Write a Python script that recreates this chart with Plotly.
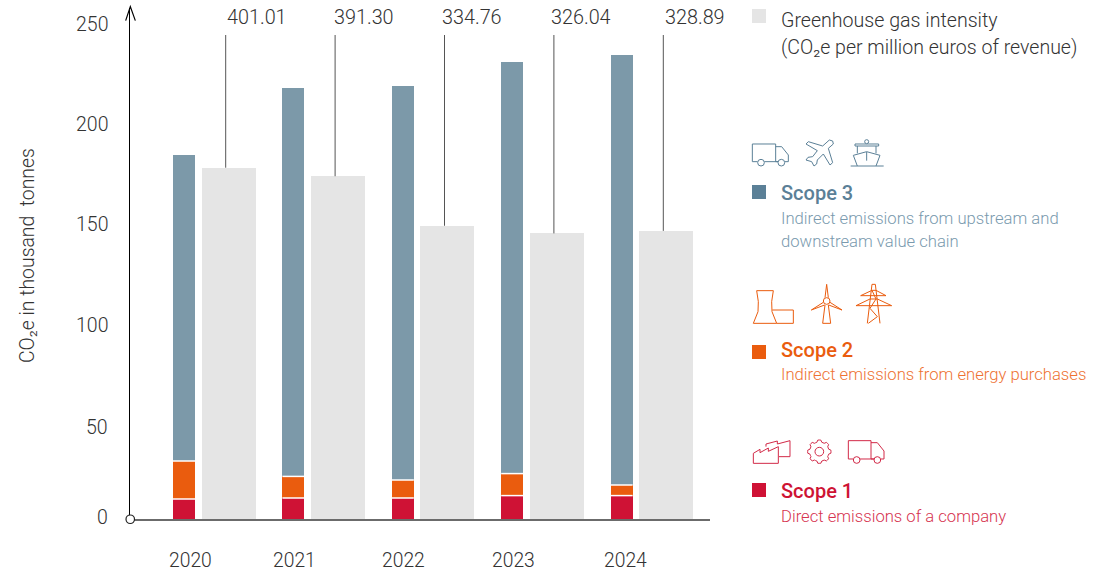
import math
import plotly.graph_objects as go

years = [2020, 2021, 2022, 2023, 2024]
scope1 = [10, 10.5, 10.5, 11.7, 11.7]
scope2 = [19, 10.8, 9, 11, 5.3]
scope3 = [153, 194.2, 197, 205.8, 215]
intensity = [401.01, 391.30, 334.76, 326.04, 328.89]
intensity_labels = ["401.01", "391.30", "334.76", "326.04", "328.89"]
y_ticks = [0, 50, 100, 150, 200, 250]

W, H = 1106, 571
L, R, T, B = 130, 710, 8, 519   # plot box in pixels
PW, PH = R - L, B - T
UNIT = 109.4                    # px per year
PX_Y1, PX_Y2 = 2.0, 0.876       # px per axis unit
X0 = 2020 - (191 - L) / UNIT

FONT = "Roboto"
INK = "#333333"
BLUE, ORANGE, RED, GREY = "#7c99a9", "#ea5c0e", "#cf1235", "#e5e5e5"
BLUE_D, RED_T = "#5b8097", "#ce1334"

def fx(p): return (p - L) / PW
def fy(p): return (B - p) / PH

fig = go.Figure()
S_OFF, S_W = (173 - 191) / UNIT, 22 / UNIT
G_OFF, G_W = (201.5 - 191) / UNIT, 54 / UNIT
for name, vals, col in [("Scope 1", scope1, RED), ("Scope 2", scope2, ORANGE), ("Scope 3", scope3, BLUE)]:
    fig.add_bar(x=years, y=vals, name=name, marker=dict(color=col, line_width=0),
                width=S_W, offset=S_OFF, yaxis="y", hoverinfo="x+y+name")
fig.add_bar(x=years, y=intensity, name="Greenhouse gas intensity", marker=dict(color=GREY, line_width=0),
            width=G_W, offset=G_OFF, yaxis="y2")

# leader lines from the intensity bars up to the label row
LEAD_X = (225.7 - 191) / UNIT
LEAD_TOP = (B - 35) / PX_Y2
lx, ly = [], []
for yr, v in zip(years, intensity):
    lx += [yr + LEAD_X, yr + LEAD_X, None]
    ly += [v, LEAD_TOP, None]
fig.add_scatter(x=lx, y=ly, yaxis="y2", mode="lines", line=dict(color="#555555", width=1),
                hoverinfo="skip", showlegend=False)

shapes, ann = [], []

# white separators between stack segments
for yr, a, b in zip(years, scope1, scope2):
    for val in (a, a + b):
        shapes.append(dict(type="line", xref="x", yref="y", x0=yr + S_OFF, x1=yr + S_OFF + S_W,
                           y0=val, y1=val, line=dict(color="white", width=1.5)))

def text(px, py, s, size=16, color=INK, anchor="left", weight=300, **kw):
    ann.append(dict(xref="paper", yref="paper", x=fx(px - 2 if anchor == "left" else px), y=fy(py), text=s,
                    showarrow=False, xanchor=anchor, yanchor="middle", align="left",
                    font=dict(family=FONT, size=size, color=color, weight=weight), **kw))

# tick labels
tick_shift = {0: 2, 50: -8, 100: -6, 150: -5.5, 200: -5, 250: -5.5}
for t in y_ticks:
    ann.append(dict(xref="paper", yref="y", x=fx(110), y=t, yshift=tick_shift[t], text=str(t), showarrow=False,
                    xanchor="right", yanchor="middle", font=dict(family=FONT, size=19.5, color=INK, weight=300)))
year_shift = [-1, -6, -6, -6, -3]
for yr, sh in zip(years, year_shift):
    ann.append(dict(xref="x", yref="paper", x=yr, xshift=sh, y=fy(560), text=str(yr), showarrow=False,
                    xanchor="center", yanchor="middle", font=dict(family=FONT, size=19.3, color=INK, weight=300)))
# value labels
val_shift = [-1, -3, -5, -5, 0]
for yr, s, sh in zip(years, intensity_labels, val_shift):
    ann.append(dict(xref="x", yref="paper", x=yr + LEAD_X, xshift=sh, y=fy(17), text=s, showarrow=False,
                    xanchor="left", yanchor="middle", font=dict(family=FONT, size=19.8, color=INK, weight=300)))

text(27, 256, "CO₂e in thousand  tonnes", size=19.4, anchor="center", textangle=-90)

# legend
def square(y, col):
    shapes.append(dict(type="rect", xref="paper", yref="paper", x0=fx(752), x1=fx(766), y0=fy(y), y1=fy(y + 14),
                       fillcolor=col, line_width=0))
square(9, GREY); square(185, BLUE_D); square(345, ORANGE); square(483, RED)
text(781, 20, "Greenhouse gas intensity", size=19.6)
text(781, 47, "(CO₂e per million euros of revenue)", size=19.55)
text(781, 193, "Scope 3", size=20, color=BLUE_D, weight=500)
text(781, 218, "Indirect emissions from upstream and", size=16.65, color="#7a9aae")
text(781, 241, "downstream value chain", size=16.65, color="#7a9aae")
text(781, 350, "Scope 2", size=20, color=ORANGE, weight=500)
text(781, 374, "Indirect emissions from energy purchases", size=16.65, color="#ee7232")
text(781, 491, "Scope 1", size=20, color=RED_T, weight=500)
text(781, 516, "Direct emissions of a company", size=16.65, color="#d63350")

# pictograms: coordinates given in 3x crop space
def path(ox, oy, pts, col, close=False, width=1.0):
    d = "M " + " L ".join(f"{fx(ox + x / 3):.5f},{fy(oy + y / 3):.5f}" for x, y in pts)
    if close:
        d += " Z"
    shapes.append(dict(type="path", xref="paper", yref="paper", path=d, line=dict(color=col, width=width)))

def circle(ox, oy, cx, cy, r, col, fill="white"):
    shapes.append(dict(type="circle", xref="paper", yref="paper",
                       x0=fx(ox + (cx - r) / 3), x1=fx(ox + (cx + r) / 3),
                       y0=fy(oy + (cy + r) / 3), y1=fy(oy + (cy - r) / 3),
                       fillcolor=fill, line=dict(color=col, width=1)))

def truck(ox, oy, x0, y0, x1, y1, cab_top, cab_x, nose, w1, w2, col):
    path(ox, oy, [(w1 - 10, y1), (x0, y1), (x0, y0), (x1, y0), (x1, y1), (w2 - 10, y1)], col)
    path(ox, oy, [(x1, cab_top), (cab_x, cab_top), (nose, cab_top + 25), (nose, y1), (w2 + 10, y1)], col)
    path(ox, oy, [(w1 + 10, y1), (w2 - 10, y1)], col)
    circle(ox, oy, w1, y1 + 3, 10, col)
    circle(ox, oy, w2, y1 + 3, 10, col)

# scope 3 icons
ox, oy = 740, 130
truck(ox, oy, 37, 42, 107, 95, 50, 125, 145, 63, 124, BLUE_D)
path(ox, oy, [(278, 33), (268, 30), (248, 48), (205, 35), (198, 42), (232, 62), (218, 80), (204, 82), (198, 90),
              (215, 95), (222, 108), (230, 102), (232, 90), (250, 72), (270, 105), (278, 98), (265, 55), (280, 42)],
     BLUE_D, close=True)
path(ox, oy, [(332, 108), (431, 108)], BLUE_D)
path(ox, oy, [(352, 108), (340, 76), (380, 65), (420, 76), (408, 108)], BLUE_D)
path(ox, oy, [(345, 48), (345, 42), (416, 42), (416, 48), (345, 48)], BLUE_D)
path(ox, oy, [(352, 48), (352, 70)], BLUE_D)
path(ox, oy, [(408, 48), (408, 70)], BLUE_D)
path(ox, oy, [(380, 66), (380, 92)], BLUE_D)
circle(ox, oy, 380, 35, 6, BLUE_D)

# scope 2 icons
ox, oy = 740, 275
path(ox, oy, [(50, 47), (100, 47), (95, 80), (96, 110), (110, 145), (40, 145), (54, 110), (55, 80)], ORANGE, close=True)
path(ox, oy, [(97, 105), (160, 105), (160, 145), (110, 145)], ORANGE)
path(ox, oy, [(255, 68), (260, 28), (265, 68)], ORANGE)
path(ox, oy, [(250, 82), (214, 105), (254, 90)], ORANGE)
path(ox, oy, [(270, 82), (306, 105), (266, 90)], ORANGE)
path(ox, oy, [(255, 90), (248, 145), (272, 145), (265, 90)], ORANGE)
circle(ox, oy, 260, 78, 10, ORANGE)
path(ox, oy, [(382, 145), (396, 28), (406, 28), (420, 145)], ORANGE)
path(ox, oy, [(362, 62), (396, 46), (408, 46), (438, 62), (362, 62)], ORANGE)
path(ox, oy, [(348, 92), (390, 72), (412, 72), (455, 92), (348, 92)], ORANGE)
path(ox, oy, [(396, 46), (408, 72), (390, 100), (412, 125), (385, 145)], ORANGE)

# scope 1 icons
ox, oy = 740, 430
C1 = "#d22a48"
path(ox, oy, [(40, 100), (40, 70), (60, 58), (60, 68), (85, 54), (85, 64), (115, 50), (115, 100)], C1, close=True)
path(ox, oy, [(78, 50), (78, 42), (112, 33), (112, 42), (150, 32), (150, 80), (117, 80)], C1)
gear = []
for i in range(8 * 6):
    ang = 2 * math.pi * i / 48
    r = 35 if (i % 6) in (0, 1, 5) else 29
    gear.append((238 + r * math.cos(ang), 65 + r * math.sin(ang)))
path(ox, oy, gear, C1, close=True)
circle(ox, oy, 238, 65, 13, C1)
truck(ox, oy, 325, 32, 393, 87, 38, 412, 432, 350, 412, C1)

# axis arrow and origin marker
path(L, 0, [(-13, 62), (1, 20), (16, 62)], "#000000", width=1.2)
shapes.append(dict(type="circle", xref="paper", yref="paper", x0=fx(126), x1=fx(134.5), y0=fy(523.5), y1=fy(515),
                   fillcolor="white", line=dict(color="#222222", width=1.2), layer="above"))

fig.update_layout(
    width=W, height=H, autosize=False, showlegend=False, barmode="stack",
    plot_bgcolor="white", paper_bgcolor="white",
    margin=dict(l=L, r=W - R, t=T, b=H - B, pad=0),
    xaxis=dict(range=[X0, X0 + PW / UNIT], showgrid=False, zeroline=False, showticklabels=False, ticks="",
               showline=True, linecolor="#6b6b6b", linewidth=2),
    yaxis=dict(range=[0, PH / PX_Y1], showgrid=False, zeroline=False, showticklabels=False, ticks="",
               tickvals=y_ticks, showline=True, linecolor="#000000", linewidth=1.2),
    yaxis2=dict(range=[0, PH / PX_Y2], overlaying="y", side="right", showgrid=False, zeroline=False,
                showticklabels=False, ticks="", showline=False),
    shapes=shapes, annotations=ann,
)
fig.write_html("out.html", config={"displayModeBar": False}, post_script="document.body.style.margin='0';")
